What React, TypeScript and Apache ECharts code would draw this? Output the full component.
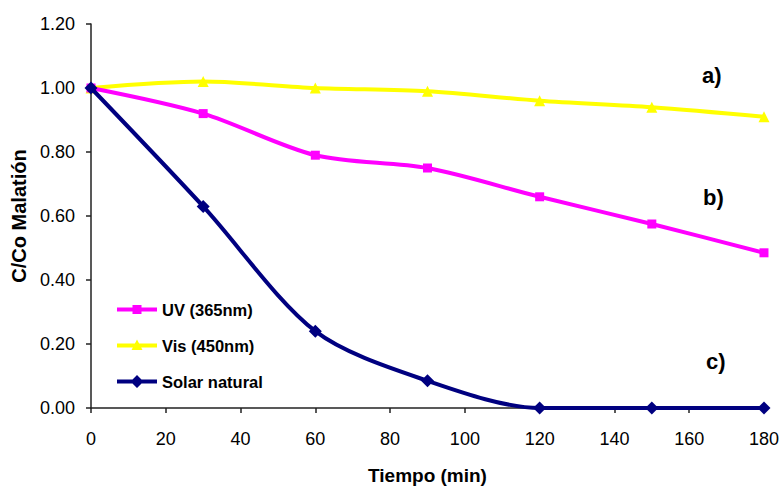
import React, { useEffect, useRef } from "react";
import * as echarts from "echarts";

const times = [0, 30, 60, 90, 120, 150, 180];
const uv = [1.0, 0.92, 0.79, 0.75, 0.66, 0.575, 0.485];
const vis = [1.0, 1.02, 1.0, 0.99, 0.96, 0.94, 0.91];
const solar = [1.0, 0.63, 0.24, 0.085, 0.0, 0.0, 0.0];
const seriesNames = ["UV (365nm)", "Vis (450nm)", "Solar natural"];
const curveLabels = ["a)", "b)", "c)"];

const FONT = "'Liberation Sans', Arial, Helvetica, sans-serif";

const BAND = "M0,0 M40,13 M0,4.5 L40,4.5 L40,8.5 L0,8.5 Z ";
const legendIcons = [
  "path://" + BAND + "M15.5,2 L24.5,2 L24.5,11 L15.5,11 Z",
  "path://" + BAND + "M20,0.5 L25.5,11 L14.5,11 Z",
  "path://" + BAND + "M20,0 L26.5,6.5 L20,13 L13.5,6.5 Z",
];

export default function App() {
  const ref = useRef<HTMLDivElement>(null);
  useEffect(() => {
    if (!ref.current) return;
    const chart = echarts.init(ref.current, null, { renderer: "svg" });
    const pts = (vals: number[]) => times.map((t, i) => [t, vals[i]]);
    chart.setOption({
      animation: false,
      backgroundColor: "#ffffff",
      textStyle: { fontFamily: FONT },
      grid: { left: 91, right: 18, top: 24, bottom: 83 },
      legend: {
        orient: "vertical",
        left: 112,
        top: 296,
        itemWidth: 40,
        itemHeight: 13,
        itemGap: 19,
        textStyle: { fontFamily: FONT, fontSize: 16.5, fontWeight: "bold", color: "#000" },
        data: seriesNames.map((n, i) => ({ name: n, icon: legendIcons[i] })),
      },
      xAxis: {
        type: "value",
        min: 0,
        max: 180,
        interval: 20,
        name: "Tiempo (min)",
        nameLocation: "middle",
        nameGap: 58,
        nameTextStyle: { fontFamily: FONT, fontSize: 19, fontWeight: "bold", color: "#000" },
        axisLine: { lineStyle: { color: "#222", width: 1.5 } },
        axisTick: { show: true, length: 5, lineStyle: { color: "#222", width: 1.5 } },
        axisLabel: { fontFamily: FONT, fontSize: 18, color: "#000", margin: 22 },
        splitLine: { show: false },
      },
      yAxis: {
        type: "value",
        min: 0,
        max: 1.2,
        interval: 0.2,
        name: "C/Co Malatión",
        nameLocation: "middle",
        nameGap: 61,
        nameTextStyle: { fontFamily: FONT, fontSize: 20, fontWeight: "bold", color: "#000" },
        axisLine: { show: true, lineStyle: { color: "#222", width: 1.5 } },
        axisTick: { show: true, length: 5, lineStyle: { color: "#222", width: 1.5 } },
        axisLabel: {
          fontFamily: FONT,
          fontSize: 18,
          color: "#000",
          margin: 16,
          formatter: (v: number) => v.toFixed(2),
        },
        splitLine: { show: false },
      },
      series: [
        {
          name: seriesNames[0],
          type: "line",
          data: pts(uv),
          smooth: 0.3,
          symbol: "rect",
          symbolSize: 9,
          lineStyle: { color: "#FF00FF", width: 4 },
          itemStyle: { color: "#FF00FF" },
          z: 2,
        },
        {
          name: seriesNames[1],
          type: "line",
          data: pts(vis),
          smooth: 0.3,
          symbol: "triangle",
          symbolSize: 11,
          lineStyle: { color: "#FFFF00", width: 4 },
          itemStyle: { color: "#FFFF00" },
          z: 1,
        },
        {
          name: seriesNames[2],
          type: "line",
          data: pts(solar),
          smooth: 0.3,
          symbol: "diamond",
          symbolSize: 13,
          lineStyle: { color: "#000080", width: 4 },
          itemStyle: { color: "#000080" },
          z: 3,
        },
      ],
      graphic: [
        { type: "text", left: 702, top: 64, style: { text: curveLabels[0], font: `bold 22px ${FONT}`, fill: "#000" } },
        { type: "text", left: 703, top: 186, style: { text: curveLabels[1], font: `bold 22px ${FONT}`, fill: "#000" } },
        { type: "text", left: 706, top: 350, style: { text: curveLabels[2], font: `bold 22px ${FONT}`, fill: "#000" } },
      ],
    });
    return () => chart.dispose();
  }, []);
  return <div ref={ref} style={{ width: 782, height: 491, position: "fixed", left: 0, top: 0 }} />;
}
